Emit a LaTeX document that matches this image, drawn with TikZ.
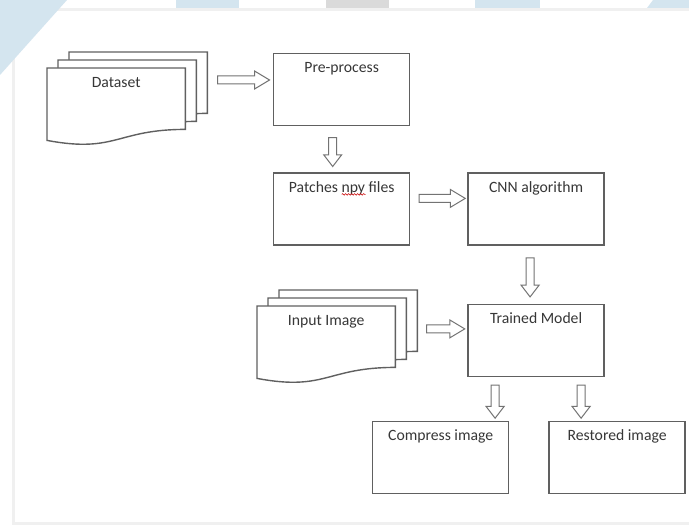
\documentclass[tikz,border=0pt]{standalone}
\usepackage{fontspec}
\setmainfont{Carlito}
\usetikzlibrary{positioning,calc,shapes.arrows,decorations.pathmorphing}
\definecolor{mygrey}{RGB}{96,96,96}
\definecolor{mytext}{RGB}{55,55,55}
\definecolor{mypale}{RGB}{212,229,239}
\definecolor{mysilver}{RGB}{218,218,218}
\pgfdeclarelayer{background}
\pgfdeclarelayer{sheets}
\pgfsetlayers{background,sheets,main}

% one sheet of a document stack, shifted by #2 from node #1
\newcommand{\docsheet}[2]{%
	\filldraw[sheet] ([shift={#2}]#1.north west) -- ([shift={#2}]#1.north east)
	-- ([shift={#2},yshift=11pt]#1.south east)
	.. controls ([shift={#2},yshift=11pt]#1.south) and ([shift={#2},yshift=-13pt]#1.south)
	.. ([shift={#2}]#1.south west) -- cycle;}

\begin{document}
\begin{tikzpicture}[x=1pt,y=-1pt,
	box/.style={
		draw=mygrey,
		line width=1.4pt,
		fill=white,
		inner sep=0pt,
		minimum width=136pt,
		text height=19pt,
		text depth=53pt,
		font=\fontsize{15.7}{18}\selectfont,
		text=mytext},
	doc/.style={box,draw=none,fill=none,minimum width=137pt,text depth=52pt},
	sheet/.style={draw=mygrey,line width=1.4pt,fill=white},
	harrow/.style={
		single arrow,
		draw=black!55,
		line width=1pt,
		fill=white,
		inner sep=3.5pt,
		single arrow head extend=5pt,
		single arrow tip angle=62},
	varrow/.style={harrow,rotate=-90,single arrow tip angle=75},
	]
	\useasboundingbox (0,0) rectangle (689,532);
	\begin{pgfonlayer}{background}
		\fill[white] (0,0) rectangle (689,532);
		\filldraw[draw=black!6,line width=3pt,fill=white] (13.5,9.5) rectangle (700,523.5);
		\fill[mypale] (0,0) -- (67,0) -- (0,75) -- cycle;
		\fill[mypale] (176,0) rectangle (239,8);
		\fill[mysilver] (326,0) rectangle (389,8);
		\fill[mypale] (475,0) rectangle (540,8);
		\fill[mypale] (653,0) -- (689,0) -- (689,8) -- (647,8) -- cycle;
	\end{pgfonlayer}
	
	\node[doc,anchor=north west] (ds) at (47,68) {Dataset};
	\node[box,anchor=north west] (pre) at (273,53) {Pre-process};
	\node[box,below=46pt of pre] (pat) {Patches npy files};
	\node[box,right=57pt of pat] (cnn) {CNN algorithm};
	\node[box,below=58pt of cnn] (trn) {Trained Model};
	\node[doc,anchor=north west] (inp) at (257,306) {Input Image};
	\node[box,anchor=north west] (cmp) at (372,421) {Compress image};
	\node[box,right=39pt of cmp] (rst) {Restored image};
	
	% spell-check mark under npy
	\draw[red!80!black,line width=0.6pt,decorate,decoration={snake,amplitude=0.8pt,segment length=3pt}]
	([shift={(0,22)}]pat.north) -- ([shift={(24,22)}]pat.north);
	
	\begin{pgfonlayer}{sheets}
		\foreach \k in {2,1,0} {
			\docsheet{ds}{(11*\k,-8*\k)}
			\docsheet{inp}{(11*\k,-8*\k)}
		}
	\end{pgfonlayer}
	
	\path ([shift={(22,12)}]ds.north east) -- node[harrow,minimum height=52pt] (a1) {} ([shift={(0,27)}]pre.north west);
	\path ([xshift=-9pt]pre.south) -- node[varrow,minimum height=29pt] (a2) {} ([xshift=-9pt]pat.north);
	\path ([shift={(0,26)}]pat.north east) -- node[harrow,minimum height=46pt] (a3) {} ([shift={(0,26)}]cnn.north west);
	\path ([xshift=-6pt]cnn.south) -- node[varrow,minimum height=39pt] (a4) {} ([xshift=-6pt]trn.north);
	\path ([shift={(22,21)}]inp.north east) -- node[harrow,minimum height=38pt] (a5) {} ([shift={(0,27)}]trn.north west);
	\coordinate (t1) at ([xshift=-41pt]trn.south);
	\coordinate (t2) at ([xshift=45pt]trn.south);
	\path (t1) -- node[varrow,minimum height=33pt] (a6) {} (t1 |- cmp.north);
	\path (t2) -- node[varrow,minimum height=33pt] (a7) {} (t2 |- rst.north);
\end{tikzpicture}
\end{document}
